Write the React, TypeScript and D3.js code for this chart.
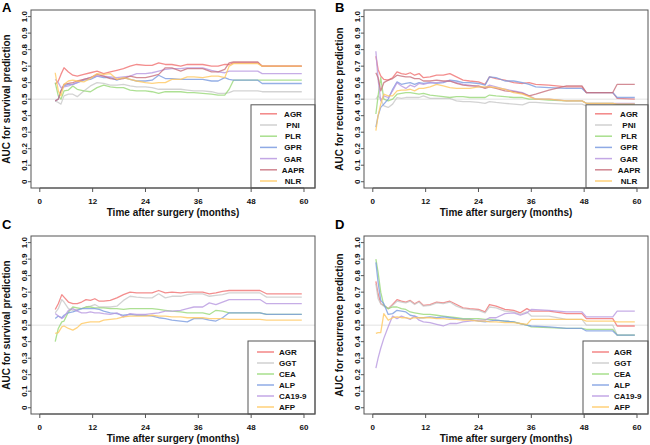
import React from 'react';
import * as d3 from 'd3';

// ---- panel A: survival, inflammation markers ----
const timeA = [3.5, 4.2, 4.8, 5.5, 6.5, 7.5, 8.5, 10, 11.5, 13, 14.5, 16, 17.5, 19, 20.5, 22, 24, 25.5, 27, 28.5, 30, 32, 33.5, 35, 37, 39, 40.5, 42, 43, 44, 47, 49.5, 50.5, 53, 59.5];
const agrA = [0.59, 0.61, 0.65, 0.69, 0.665, 0.645, 0.64, 0.65, 0.66, 0.67, 0.655, 0.665, 0.675, 0.685, 0.70, 0.71, 0.705, 0.705, 0.72, 0.71, 0.71, 0.70, 0.71, 0.71, 0.71, 0.70, 0.70, 0.71, 0.71, 0.72, 0.72, 0.72, 0.70, 0.70, 0.70];
const pniA = [0.49, 0.48, 0.47, 0.52, 0.53, 0.53, 0.515, 0.55, 0.58, 0.60, 0.595, 0.585, 0.585, 0.59, 0.58, 0.575, 0.575, 0.57, 0.56, 0.56, 0.56, 0.56, 0.555, 0.55, 0.55, 0.545, 0.535, 0.535, 0.54, 0.55, 0.55, 0.55, 0.545, 0.545, 0.545];
const plrA = [0.60, 0.52, 0.50, 0.55, 0.555, 0.58, 0.56, 0.55, 0.545, 0.57, 0.585, 0.575, 0.57, 0.57, 0.555, 0.55, 0.55, 0.545, 0.535, 0.545, 0.545, 0.545, 0.54, 0.54, 0.535, 0.53, 0.525, 0.525, 0.56, 0.615, 0.615, 0.615, 0.615, 0.615, 0.615];
const gprA = [0.49, 0.50, 0.55, 0.58, 0.59, 0.59, 0.60, 0.615, 0.62, 0.64, 0.63, 0.63, 0.615, 0.63, 0.62, 0.61, 0.61, 0.615, 0.645, 0.625, 0.625, 0.62, 0.62, 0.62, 0.62, 0.61, 0.61, 0.63, 0.62, 0.615, 0.615, 0.615, 0.595, 0.595, 0.595];
const garA = [0.62, 0.60, 0.57, 0.575, 0.58, 0.59, 0.60, 0.62, 0.63, 0.64, 0.64, 0.635, 0.63, 0.635, 0.64, 0.655, 0.655, 0.66, 0.67, 0.68, 0.685, 0.685, 0.69, 0.69, 0.69, 0.675, 0.665, 0.66, 0.67, 0.67, 0.67, 0.67, 0.655, 0.655, 0.655];
const aaprA = [0.49, 0.50, 0.55, 0.59, 0.595, 0.60, 0.61, 0.62, 0.63, 0.65, 0.64, 0.625, 0.62, 0.625, 0.64, 0.63, 0.63, 0.64, 0.65, 0.69, 0.69, 0.67, 0.685, 0.685, 0.685, 0.665, 0.665, 0.68, 0.72, 0.725, 0.725, 0.725, 0.70, 0.70, 0.70];
const nlrA = [0.66, 0.55, 0.52, 0.59, 0.61, 0.615, 0.61, 0.605, 0.625, 0.655, 0.65, 0.655, 0.62, 0.63, 0.62, 0.61, 0.60, 0.595, 0.60, 0.60, 0.62, 0.62, 0.635, 0.635, 0.63, 0.64, 0.64, 0.63, 0.70, 0.715, 0.715, 0.715, 0.70, 0.70, 0.70];

// ---- panel B: recurrence, inflammation markers ----
const timeB = [0.7, 1.2, 1.8, 2.5, 3.5, 4.5, 5.5, 6.5, 7.5, 8.5, 9.5, 10.5, 11.5, 13, 14.5, 16, 17.5, 19, 20.5, 22, 24, 25.5, 26.5, 28, 30, 32, 34, 35.5, 37, 40, 44, 47.5, 48.5, 51, 54.5, 55.5, 59.5];
const agrB = [0.76, 0.68, 0.64, 0.62, 0.615, 0.63, 0.665, 0.655, 0.65, 0.66, 0.645, 0.655, 0.63, 0.635, 0.645, 0.645, 0.655, 0.635, 0.615, 0.61, 0.605, 0.59, 0.635, 0.625, 0.615, 0.60, 0.595, 0.60, 0.59, 0.585, 0.575, 0.575, 0.54, 0.54, 0.54, 0.505, 0.50];
const pniB = [0.50, 0.52, 0.50, 0.46, 0.45, 0.47, 0.51, 0.505, 0.51, 0.51, 0.51, 0.51, 0.52, 0.505, 0.505, 0.505, 0.505, 0.49, 0.485, 0.485, 0.48, 0.475, 0.485, 0.48, 0.475, 0.47, 0.465, 0.48, 0.48, 0.475, 0.47, 0.47, 0.46, 0.46, 0.46, 0.46, 0.46];
const plrB = [0.41, 0.52, 0.63, 0.50, 0.49, 0.50, 0.53, 0.535, 0.54, 0.54, 0.535, 0.53, 0.535, 0.525, 0.52, 0.515, 0.51, 0.515, 0.515, 0.51, 0.51, 0.51, 0.525, 0.52, 0.515, 0.51, 0.51, 0.50, 0.50, 0.495, 0.49, 0.49, 0.475, 0.475, 0.475, 0.47, 0.47];
const gprB = [0.33, 0.40, 0.45, 0.47, 0.50, 0.56, 0.605, 0.59, 0.595, 0.60, 0.59, 0.60, 0.595, 0.60, 0.595, 0.60, 0.615, 0.61, 0.60, 0.60, 0.595, 0.585, 0.635, 0.63, 0.61, 0.61, 0.60, 0.59, 0.575, 0.57, 0.565, 0.565, 0.54, 0.54, 0.54, 0.51, 0.51];
const garB = [0.79, 0.62, 0.49, 0.52, 0.51, 0.55, 0.60, 0.58, 0.565, 0.585, 0.575, 0.595, 0.59, 0.60, 0.60, 0.605, 0.61, 0.60, 0.59, 0.585, 0.575, 0.57, 0.585, 0.575, 0.56, 0.55, 0.54, 0.52, 0.50, 0.50, 0.49, 0.49, 0.475, 0.475, 0.475, 0.475, 0.475];
const aaprB = [0.66, 0.63, 0.55, 0.60, 0.615, 0.625, 0.645, 0.64, 0.635, 0.635, 0.625, 0.625, 0.61, 0.61, 0.615, 0.61, 0.61, 0.595, 0.585, 0.58, 0.58, 0.565, 0.575, 0.565, 0.55, 0.545, 0.535, 0.52, 0.53, 0.555, 0.58, 0.58, 0.54, 0.54, 0.54, 0.59, 0.59];
const nlrB = [0.31, 0.40, 0.47, 0.53, 0.52, 0.52, 0.55, 0.555, 0.555, 0.56, 0.55, 0.565, 0.565, 0.575, 0.59, 0.58, 0.57, 0.565, 0.565, 0.565, 0.575, 0.575, 0.575, 0.57, 0.56, 0.54, 0.53, 0.515, 0.50, 0.50, 0.49, 0.49, 0.475, 0.475, 0.475, 0.47, 0.47];

// ---- panel C: survival, conventional markers ----
const timeC = [3.5, 4.2, 5, 5.5, 6.5, 7.5, 8.5, 9.5, 10.5, 11.5, 12.5, 13.5, 14.5, 16, 17.5, 19, 20.5, 22, 24, 25.5, 27, 28.5, 30, 32, 33.5, 35, 37, 38.5, 40, 41.5, 43, 44, 47, 50, 51.5, 59.5];
const agrC = [0.595, 0.63, 0.685, 0.67, 0.64, 0.63, 0.63, 0.64, 0.655, 0.65, 0.66, 0.645, 0.645, 0.65, 0.665, 0.685, 0.70, 0.695, 0.695, 0.695, 0.71, 0.695, 0.70, 0.695, 0.70, 0.70, 0.70, 0.69, 0.695, 0.705, 0.71, 0.71, 0.71, 0.71, 0.69, 0.69];
const ggtC = [0.575, 0.60, 0.655, 0.64, 0.60, 0.59, 0.595, 0.60, 0.61, 0.615, 0.625, 0.61, 0.61, 0.61, 0.615, 0.65, 0.675, 0.67, 0.665, 0.665, 0.69, 0.665, 0.675, 0.675, 0.685, 0.69, 0.69, 0.675, 0.68, 0.685, 0.695, 0.695, 0.695, 0.695, 0.67, 0.67];
const ceaC = [0.40, 0.48, 0.52, 0.525, 0.58, 0.61, 0.605, 0.60, 0.61, 0.61, 0.605, 0.605, 0.605, 0.60, 0.60, 0.595, 0.60, 0.60, 0.60, 0.60, 0.595, 0.59, 0.585, 0.58, 0.575, 0.575, 0.575, 0.565, 0.59, 0.585, 0.575, 0.575, 0.575, 0.575, 0.565, 0.565];
const alpC = [0.54, 0.555, 0.545, 0.56, 0.575, 0.58, 0.59, 0.60, 0.60, 0.60, 0.60, 0.595, 0.585, 0.575, 0.57, 0.56, 0.565, 0.56, 0.56, 0.555, 0.545, 0.54, 0.53, 0.525, 0.52, 0.54, 0.54, 0.53, 0.525, 0.545, 0.575, 0.575, 0.575, 0.575, 0.565, 0.565];
const ca199C = [0.57, 0.555, 0.54, 0.55, 0.59, 0.60, 0.585, 0.575, 0.575, 0.58, 0.575, 0.575, 0.57, 0.565, 0.575, 0.55, 0.57, 0.565, 0.565, 0.57, 0.575, 0.585, 0.585, 0.59, 0.60, 0.61, 0.61, 0.635, 0.625, 0.64, 0.655, 0.655, 0.655, 0.655, 0.63, 0.63];
const afpC = [0.45, 0.455, 0.49, 0.495, 0.48, 0.47, 0.485, 0.51, 0.515, 0.52, 0.52, 0.52, 0.53, 0.535, 0.54, 0.55, 0.555, 0.555, 0.555, 0.56, 0.555, 0.555, 0.55, 0.55, 0.545, 0.545, 0.545, 0.54, 0.54, 0.54, 0.535, 0.535, 0.535, 0.535, 0.53, 0.53];

// ---- panel D: recurrence, conventional markers ----
const timeD = [0.7, 1.2, 1.8, 2.5, 3.5, 4.5, 5.5, 6.5, 7.5, 8.5, 9.5, 10.5, 11.5, 13, 14.5, 16, 17.5, 19, 20.5, 22, 24, 25.5, 26.5, 28, 30, 32, 33.5, 35, 36, 40, 44, 47.5, 48.5, 51, 54.5, 55.5, 59.5];
const agrD = [0.765, 0.69, 0.63, 0.62, 0.60, 0.625, 0.655, 0.645, 0.64, 0.65, 0.63, 0.645, 0.62, 0.625, 0.64, 0.635, 0.645, 0.625, 0.605, 0.60, 0.595, 0.58, 0.625, 0.615, 0.595, 0.59, 0.575, 0.60, 0.585, 0.585, 0.57, 0.57, 0.54, 0.54, 0.54, 0.495, 0.495];
const ggtD = [0.75, 0.66, 0.63, 0.615, 0.60, 0.62, 0.645, 0.64, 0.635, 0.645, 0.625, 0.64, 0.615, 0.62, 0.635, 0.63, 0.64, 0.615, 0.60, 0.595, 0.59, 0.575, 0.61, 0.605, 0.585, 0.58, 0.565, 0.58, 0.555, 0.555, 0.535, 0.535, 0.50, 0.50, 0.50, 0.44, 0.44];
const ceaD = [0.90, 0.82, 0.70, 0.62, 0.60, 0.61, 0.61, 0.60, 0.595, 0.58, 0.575, 0.57, 0.565, 0.565, 0.56, 0.555, 0.55, 0.545, 0.54, 0.54, 0.54, 0.535, 0.535, 0.53, 0.525, 0.52, 0.51, 0.50, 0.49, 0.485, 0.48, 0.48, 0.475, 0.475, 0.475, 0.44, 0.44];
const alpD = [0.88, 0.76, 0.65, 0.63, 0.565, 0.57, 0.59, 0.585, 0.58, 0.56, 0.555, 0.545, 0.545, 0.55, 0.545, 0.55, 0.545, 0.54, 0.535, 0.535, 0.525, 0.52, 0.525, 0.53, 0.525, 0.52, 0.51, 0.50, 0.495, 0.49, 0.48, 0.48, 0.465, 0.465, 0.465, 0.44, 0.44];
const ca199D = [0.24, 0.30, 0.36, 0.42, 0.49, 0.555, 0.54, 0.555, 0.545, 0.535, 0.555, 0.53, 0.52, 0.515, 0.505, 0.495, 0.51, 0.51, 0.52, 0.525, 0.53, 0.53, 0.545, 0.545, 0.57, 0.575, 0.56, 0.575, 0.595, 0.59, 0.58, 0.58, 0.55, 0.55, 0.55, 0.585, 0.585];
const afpD = [0.45, 0.455, 0.455, 0.57, 0.53, 0.545, 0.55, 0.545, 0.545, 0.54, 0.545, 0.545, 0.545, 0.545, 0.54, 0.54, 0.535, 0.535, 0.53, 0.53, 0.525, 0.525, 0.52, 0.52, 0.515, 0.515, 0.51, 0.505, 0.535, 0.535, 0.535, 0.535, 0.525, 0.525, 0.525, 0.52, 0.52];

const xTicks = [0, 12, 24, 36, 48, 60];
const yTicks = [0, 0.1, 0.2, 0.3, 0.4, 0.5, 0.6, 0.7, 0.8, 0.9, 1.0];
const yTickLabels = ['0', '0.1', '0.2', '0.3', '0.4', '0.5', '0.6', '0.7', '0.8', '0.9', '1.0'];

const COL = {
  red: '#F07070',
  gray: '#C8C8C8',
  green: '#98D878',
  blue: '#7B9BE0',
  purple: '#B898E0',
  rose: '#C8707C',
  orange: '#FFC860',
};

const FONT = 'Liberation Sans, Arial, sans-serif';
const BOX_W = 284;
const BOX_H = 178;

type Series = { name: string; color: string; values: number[] };

interface PanelProps {
  letter: string;
  left: number;
  top: number;
  letterY: number;
  yTitle: string;
  time: number[];
  series: Series[];
  legendW: number;
  legendStep: number;
  legendFirst: number;
  textAnchor: 'start' | 'middle';
  textDx: number;
}

const Panel: React.FC<PanelProps> = ({ letter, left, top, letterY, yTitle, time, series, legendW, legendStep, legendFirst, textAnchor, textDx }) => {
  const x = d3.scaleLinear().domain([-2, 62.5]).range([0, BOX_W]);
  const y = d3.scaleLinear().domain([-0.038, 1.04]).range([BOX_H, 0]);

  const line = d3.line<number>()
    .x((_, i) => x(time[i]))
    .y(v => y(v));

  const legH = legendFirst + (series.length - 1) * legendStep + 7;
  const legX = BOX_W - legendW;
  const legY = BOX_H - legH;

  return (
    <g transform={`translate(${left},${top})`} fontFamily={FONT}>
      <text x={-29} y={letterY - top} fontSize={13} fontWeight="bold" fill="#000">{letter}</text>

      <line x1={0} x2={BOX_W} y1={y(0.5)} y2={y(0.5)} stroke="#E2E2E2" strokeWidth={1} />

      <g clipPath={`url(#clip-${letter})`}>
        {series.map(s => (
          <path key={s.name} d={line(s.values) || ''} fill="none" stroke={s.color}
            strokeWidth={1.3} strokeOpacity={0.8} strokeLinejoin="round" />
        ))}
      </g>

      {/* legend */}
      <rect x={legX} y={legY} width={legendW} height={legH} fill="#fff" stroke="#555" strokeWidth={1} />
      {series.map((s, i) => {
        const ly = legY + legendFirst + i * legendStep;
        return (
          <g key={s.name}>
            <line x1={legX + 9} x2={legX + 26} y1={ly} y2={ly} stroke={s.color} strokeWidth={1.5} strokeOpacity={0.85} />
            <text x={legX + textDx} y={ly + 3} fontSize={8} fontWeight="bold" textAnchor={textAnchor} fill="#111">{s.name}</text>
          </g>
        );
      })}

      <rect x={0} y={0} width={BOX_W} height={BOX_H} fill="none" stroke="#555" strokeWidth={1} />

      {/* x axis */}
      {xTicks.map(t => (
        <g key={t}>
          <line x1={x(t)} x2={x(t)} y1={BOX_H} y2={BOX_H + 4} stroke="#555" />
          <text x={x(t)} y={BOX_H + 16} fontSize={8} fontWeight="bold" textAnchor="middle" fill="#111">{t}</text>
        </g>
      ))}
      <line x1={x(0)} x2={x(60)} y1={BOX_H} y2={BOX_H} stroke="#555" />
      <text x={BOX_W / 2} y={BOX_H + 28} fontSize={10} fontWeight="bold" textAnchor="middle" fill="#111">
        Time after surgery (months)
      </text>

      {/* y axis */}
      {yTicks.map((t, i) => (
        <g key={t}>
          <line x1={-3} x2={0} y1={y(t)} y2={y(t)} stroke="#555" />
          <text transform={`translate(-4.5,${y(t)}) rotate(-90)`} fontSize={8} fontWeight="bold" textAnchor="middle" fill="#111">
            {yTickLabels[i]}
          </text>
        </g>
      ))}
      <text transform={`translate(-21,${BOX_H / 2}) rotate(-90)`} fontSize={10} fontWeight="bold" textAnchor="middle" fill="#111">
        {yTitle}
      </text>

      <defs>
        <clipPath id={`clip-${letter}`}>
          <rect x={0} y={0} width={BOX_W} height={BOX_H} />
        </clipPath>
      </defs>
    </g>
  );
};

const App: React.FC = () => {
  const seriesA: Series[] = [
    { name: 'AGR', color: COL.red, values: agrA },
    { name: 'PNI', color: COL.gray, values: pniA },
    { name: 'PLR', color: COL.green, values: plrA },
    { name: 'GPR', color: COL.blue, values: gprA },
    { name: 'GAR', color: COL.purple, values: garA },
    { name: 'AAPR', color: COL.rose, values: aaprA },
    { name: 'NLR', color: COL.orange, values: nlrA },
  ];
  const seriesB: Series[] = [
    { name: 'AGR', color: COL.red, values: agrB },
    { name: 'PNI', color: COL.gray, values: pniB },
    { name: 'PLR', color: COL.green, values: plrB },
    { name: 'GPR', color: COL.blue, values: gprB },
    { name: 'GAR', color: COL.purple, values: garB },
    { name: 'AAPR', color: COL.rose, values: aaprB },
    { name: 'NLR', color: COL.orange, values: nlrB },
  ];
  const seriesC: Series[] = [
    { name: 'AGR', color: COL.red, values: agrC },
    { name: 'GGT', color: COL.gray, values: ggtC },
    { name: 'CEA', color: COL.green, values: ceaC },
    { name: 'ALP', color: COL.blue, values: alpC },
    { name: 'CA19-9', color: COL.purple, values: ca199C },
    { name: 'AFP', color: COL.orange, values: afpC },
  ];
  const seriesD: Series[] = [
    { name: 'AGR', color: COL.red, values: agrD },
    { name: 'GGT', color: COL.gray, values: ggtD },
    { name: 'CEA', color: COL.green, values: ceaD },
    { name: 'ALP', color: COL.blue, values: alpD },
    { name: 'CA19-9', color: COL.purple, values: ca199D },
    { name: 'AFP', color: COL.orange, values: afpD },
  ];

  return (
    <svg width={650} height={445} style={{ position: 'absolute', left: 0, top: 0, background: '#fff' }}>
      <rect width={650} height={445} fill="#fff" />
      <Panel letter="A" left={31} top={10} letterY={12} yTitle="AUC for survival prediction" time={timeA} series={seriesA}
        legendW={64} legendStep={11.2} legendFirst={9} textAnchor="middle" textDx={42} />
      <Panel letter="B" left={364} top={10} letterY={12} yTitle="AUC for recurrence prediction" time={timeB} series={seriesB}
        legendW={62} legendStep={11.2} legendFirst={9} textAnchor="middle" textDx={43} />
      <Panel letter="C" left={31} top={236} letterY={229} yTitle="AUC for survival prediction" time={timeC} series={seriesC}
        legendW={67} legendStep={11} legendFirst={11} textAnchor="start" textDx={31} />
      <Panel letter="D" left={364} top={236} letterY={229} yTitle="AUC for recurrence prediction" time={timeD} series={seriesD}
        legendW={65} legendStep={11} legendFirst={11} textAnchor="start" textDx={31} />
    </svg>
  );
};

export default App;
